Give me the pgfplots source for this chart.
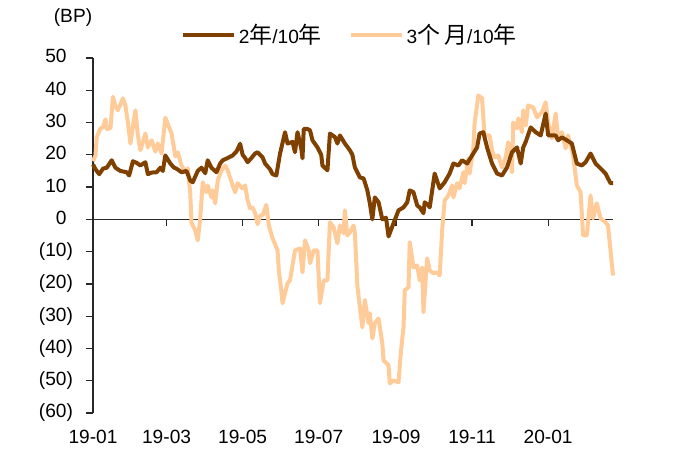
\documentclass[border=0pt]{standalone}
\usepackage{fontspec}
\setmainfont{Liberation Sans}
\newfontfamily\cjk[Scale=1.2]{Noto Sans CJK SC}
\usepackage{pgfplots}
\pgfplotsset{compat=1.18}
\usepackage{pgfplotstable}

\definecolor{spreadlong}{RGB}{128,64,0}
\definecolor{spreadshort}{RGB}{255,204,153}
\definecolor{axisgray}{RGB}{40,40,40}

% day = days since 2019-01-01, value in BP
\pgfplotstableread{
day val
0 17
2 15.5
5 14
8 15.7
11 16
15 18.3
18 16
22 15
27 14.6
29 13.6
32 18
35 17.5
38 16.7
42 17.7
44 14
47 14.5
51 14.6
54 16
56 15
58 19.8
62 17.3
65 16
67 15.7
71 14.6
75 15
78 12
80 11.5
84 15
87 16
90 14.3
92 18.3
95 16
99 14.6
102 17.3
104 18.3
108 19
112 19.8
115 21
118 23.4
120 20
122 19
124 17.7
127 19
130 20.4
132 20.8
136 19.2
138 17.3
142 15.5
144 14
147 13.6
150 20.4
154 27
156 23.5
160 24
162 20.8
164 27
167 22
168 18.9
169 28
172 28
174 27.6
176 24.5
180 22.3
183 20
184 16.7
188 15.2
190 26.6
194 25.5
196 23.5
198 26
202 23.5
206 21.4
208 20
210 16.1
214 13
217 12.7
220 9
222 5
224 0
226 6.8
229 5.3
232 0
235 0.5
237 -5.3
241 -1.2
245 2.8
249 3.7
252 5.3
254 9
257 8.4
260 4.3
262 3.7
265 1.9
266 5.3
269 4.3
270 3.7
274 14.2
278 9.6
282 11.5
286 14.2
289 17.3
293 16.7
296 18.3
300 17.3
304 19.8
308 22.3
310 26.6
313 27
316 22.3
320 17.3
324 14.2
328 13.6
332 16.1
336 20.8
340 22.3
343 17.3
345 22.3
347 24
351 28.5
355 27
359 26
363 32.8
365 26
371 26
373 24.5
376 25.4
380 24.5
384 23.5
388 17.3
392 16.7
395 17.7
399 20.4
403 17.3
407 15.8
411 14.2
415 11.2
417 11.2
}\twoyear

\pgfplotstableread{
day val
0 18
2 19.8
3 25.5
6 28.2
8 28.5
10 31
11 28
14 28.2
16 38
18 35
20 33.8
24 37.5
26 35.3
28 30
30 23.5
34 33.8
36 26
38 21.4
40 24
42 26.6
44 22.3
47 24.5
50 21
52 23.5
55 20.4
58 31.5
60 29.5
63 26.6
66 19.5
68 20.8
71 16.7
74 14.6
76 15.8
78 8
79 -1.2
82 -3.4
84 -6.5
86 0.3
88 11.5
91 8.4
92 10.5
95 6.8
96 9
98 5
100 12
103 15.2
106 16.7
108 15.2
112 10.5
114 8.4
116 11.2
120 9.6
122 10.5
124 5.9
126 3.4
128 3.7
130 1.9
132 -1.5
134 1.2
136 1.2
139 4.5
141 -1.9
144 -5.9
148 -9.6
149 -15.8
151 -22
152 -26
156 -19.8
158 -18.9
162 -9.6
166 -9
168 -16.4
170 -6.5
173 -9.6
174 -13.6
177 -9.6
180 -9.6
182 -26
185 -18.9
188 -18.9
190 -0.9
193 -2.5
196 -7.4
198 -1.9
201 -4.3
202 2.8
204 -5
206 -4
209 -1.9
210 -4.3
212 -20.5
214 -27.3
216 -33.5
218 -25
221 -32.2
222 -29.1
224 -36.9
226 -32.2
229 -30.7
232 -38.4
233 -43.7
237 -45.2
238 -50.8
241 -49.9
245 -50.5
247 -40.6
249 -33.5
250 -22
253 -21
254 -7.1
257 -14.9
260 -14.3
262 -18.9
264 -14.9
265 -28.8
268 -12.1
270 -15.8
273 -16.7
276 -16.4
278 -17.4
280 -3.4
282 5.9
285 7.4
288 10.5
289 6.8
292 11.2
294 9.6
297 14.6
298 11.2
301 18.9
302 14.2
305 22
306 29.7
309 38.4
312 37.5
314 26
318 26
320 21.4
322 19.2
325 19.8
328 16.1
331 19.2
333 23.9
336 14.6
337 30
340 28.2
341 31.3
344 27
345 33.8
347 29.1
349 35.3
353 34.7
356 31.6
360 33.2
363 36.3
365 30
368 25.1
371 32.8
373 25.1
376 27
379 22
381 26
385 19.8
388 10.5
391 8.4
393 -5
396 -5
399 7.4
401 0.3
404 5
407 0.3
411 -0.9
413 -1.9
417 -17.4
}\threemonth

\begin{document}
\begin{tikzpicture}
\useasboundingbox (-46.5bp,-21bp) rectangle (292bp,206.5bp);
\begin{axis}[
  at={(0,0)}, anchor=south west,
  scale only axis, width=260bp, height=177.5bp,
  xmin=0, xmax=417, ymin=-60, ymax=50,
  axis lines*=left,
  x axis line style={draw=none},
  y axis line style={axisgray, line width=0.6bp},
  xtick={0,59,120,181,243,304,365},
  xticklabels={19-01,19-03,19-05,19-07,19-09,19-11,20-01},
  xtick style={draw=none},
  ytick={-60,-50,...,50},
  yticklabels={(60),(50),(40),(30),(20),(10),0\phantom{)},10\phantom{)},20\phantom{)},30\phantom{)},40\phantom{)},50\phantom{)}},
  ytick style={axisgray, line width=0.6bp},
  tick align=outside, major tick length=3.5bp,
  ticklabel style={font=\fontsize{9.6}{11}\selectfont, text=black},
  yticklabel style={xshift=-3bp},
  xticklabel style={yshift=-1.8bp},
  clip=false,
  legend columns=2,
  legend style={at={(axis description cs:0.1692,1.0648)}, anchor=west,
    draw=none, fill=none, inner sep=0pt,
    font=\fontsize{9.6}{11}\selectfont,
    nodes={inner sep=1.2bp},
    /tikz/every even column/.append style={column sep=12.5bp}},
  legend image code/.code={\draw[#1] (0bp,0bp) -- (25.5bp,0bp);},
]
% zero line carrying the date ticks
\draw[axisgray, line width=0.6bp] (axis cs:0,0) -- (axis cs:417,0);
\pgfplotsinvokeforeach{0,59,120,181,243,304,365}{
  \draw[axisgray, line width=0.6bp] (axis cs:#1,0) -- ++(0bp,-3.5bp);
}
\addlegendimage{spreadlong, line width=2bp}
\addlegendentry{2{\cjk 年}/10{\cjk 年}}
\addplot[spreadshort, line width=2bp, line join=round] table[x=day, y=val] {\threemonth};
\addlegendentry{3{\cjk 个\,月}/10{\cjk 年}}
\addplot[spreadlong, line width=2bp, line join=round, forget plot] table[x=day, y=val] {\twoyear};
\node[font=\fontsize{9.6}{11}\selectfont] at ([xshift=-10bp, yshift=20bp]rel axis cs:0,1) {(BP)};
\end{axis}
\end{tikzpicture}
\end{document}
